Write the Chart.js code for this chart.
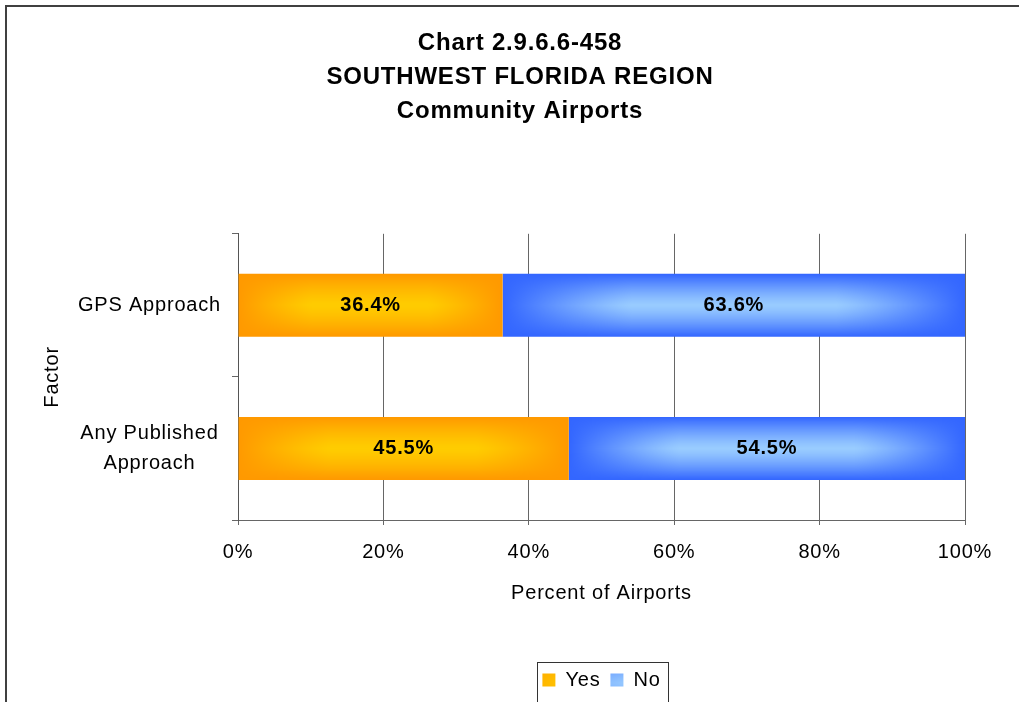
<!DOCTYPE html>
<html><head><meta charset="utf-8">
<script src="https://cdn.jsdelivr.net/npm/chart.js@4.4.1/dist/chart.umd.min.js"></script>
<style>html,body{margin:0;padding:0;background:#fff}canvas{display:block}</style>
</head><body>
<canvas id="c" width="1019" height="702"></canvas>
<script>
const titleLines = ['Chart 2.9.6.6-458', 'SOUTHWEST FLORIDA REGION', 'Community Airports'];
const categories = ['GPS Approach', ['Any Published', 'Approach']];
const seriesNames = ['Yes', 'No'];
const yesValues = [36.4, 45.5];
const noValues = [63.6, 54.5];
const xAxisTitle = 'Percent of Airports';
const yAxisTitle = 'Factor';
const xMin = 0, xMax = 100, xStep = 20;

const FONT = "'Liberation Sans', Arial, sans-serif";
const BAR_PCT = 0.44;
const palettes = [
  {edge: [255, 153, 0], center: [255, 204, 0], solid: '#FFAA00'},
  {edge: [51, 102, 255], center: [153, 204, 255], solid: '#4A7BFF'}
];

const gradCache = {};
function gradientCanvas(w, h, pal, key) {
  w = Math.max(2, Math.round(w)); h = Math.max(2, Math.round(h));
  const k = key + ':' + w + 'x' + h;
  if (gradCache[k]) return gradCache[k];
  const cv = document.createElement('canvas');
  cv.width = w; cv.height = h;
  const g = cv.getContext('2d');
  const img = g.createImageData(w, h);
  const fx = Math.max(1, 0.28 * w);
  for (let y = 0; y < h; y++) {
    const dy = Math.pow(Math.abs(y + 0.5 - h / 2) / (h / 2), 1.3);
    for (let x = 0; x < w; x++) {
      const de = Math.min(x + 0.5, w - x - 0.5);
      const tx = Math.pow(Math.max(0, 1 - de / fx), 1.2);
      const t = Math.min(1, 1 - (1 - dy) * (1 - tx));
      const i = (y * w + x) * 4;
      for (let c = 0; c < 3; c++) img.data[i + c] = Math.round(pal.center[c] + (pal.edge[c] - pal.center[c]) * t);
      img.data[i + 3] = 255;
    }
  }
  g.putImageData(img, 0, 0);
  gradCache[k] = cv;
  return cv;
}

function barFill(dsIndex) {
  return function (context) {
    const pal = palettes[dsIndex];
    if (context.type !== 'data') return pal.solid;
    const chart = context.chart;
    const xs = chart.scales.x, ys = chart.scales.y;
    if (!xs || !ys || !chart.chartArea) return pal.solid;
    const i = context.dataIndex;
    let start = 0;
    for (let d = 0; d < dsIndex; d++) start += chart.data.datasets[d].data[i];
    const end = start + chart.data.datasets[dsIndex].data[i];
    const p0 = xs.getPixelForValue(start), p1 = xs.getPixelForValue(end);
    const yc = ys.getPixelForValue(i);
    const th = (ys.height / categories.length) * BAR_PCT;
    const x0 = Math.min(p0, p1), w = Math.abs(p1 - p0);
    const y0 = yc - th / 2;
    if (!isFinite(x0) || !isFinite(y0) || w < 1) return pal.solid;
    const cv = gradientCanvas(w, th, pal, dsIndex);
    const pat = chart.ctx.createPattern(cv, 'repeat');
    if (pat.setTransform) pat.setTransform(new DOMMatrix().translate(x0, y0).scale(w / cv.width, th / cv.height));
    return pat;
  };
}

const decorPlugin = {
  id: 'decor',
  beforeLayout(chart) { chart.ctx.letterSpacing = '0.8px'; },
  afterLayout(chart) {
    if (chart.titleBlock) { chart.titleBlock.left = 21; chart.titleBlock.right = 1019; }
  },
  beforeDraw(chart) {
    const ctx = chart.ctx;
    ctx.letterSpacing = '0.8px';
    ctx.save();
    ctx.fillStyle = '#404040';
    ctx.fillRect(5, 5, chart.width - 5, 2);
    ctx.fillRect(5, 5, 2, chart.height - 5);
    ctx.restore();
  },
  afterDatasetsDraw(chart) {
    const ctx = chart.ctx;
    ctx.save();
    ctx.font = 'bold 20px ' + FONT;
    ctx.fillStyle = '#000';
    ctx.textAlign = 'center';
    ctx.textBaseline = 'middle';
    chart.data.datasets.forEach((ds, di) => {
      const meta = chart.getDatasetMeta(di);
      meta.data.forEach((el, i) => {
        const v = ds.data[i];
        ctx.fillText(v.toFixed(1) + '%', (el.x + el.base) / 2, el.y);
      });
    });
    ctx.restore();
  },
  afterDraw(chart) {
    const lg = chart.legend;
    if (!lg || !lg.legendHitBoxes || !lg.legendHitBoxes.length) return;
    const hb = lg.legendHitBoxes;
    const last = hb[hb.length - 1];
    const left = hb[0].left - 5;
    const right = last.left + last.width + 8;
    const top = lg.top + 2;
    const ctx = chart.ctx;
    ctx.save();
    ctx.strokeStyle = '#333';
    ctx.lineWidth = 1;
    ctx.strokeRect(Math.round(left) + 0.5, Math.round(top) + 0.5, Math.round(right - left), 80);
    ctx.restore();
  }
};

Chart.defaults.font.family = FONT;
Chart.defaults.color = '#000';

new Chart(document.getElementById('c'), {
  type: 'bar',
  data: {
    labels: categories,
    datasets: [
      {label: seriesNames[0], data: yesValues, backgroundColor: barFill(0), borderWidth: 0,
       barPercentage: BAR_PCT, categoryPercentage: 1},
      {label: seriesNames[1], data: noValues, backgroundColor: barFill(1), borderWidth: 0,
       barPercentage: BAR_PCT, categoryPercentage: 1}
    ]
  },
  options: {
    indexAxis: 'y',
    responsive: false,
    animation: false,
    devicePixelRatio: 1,
    layout: {padding: {left: 30, right: 54, top: 0, bottom: 2}},
    scales: {
      x: {
        stacked: true, min: xMin, max: xMax,
        ticks: {stepSize: xStep, padding: 15, font: {size: 20}, color: '#000',
                callback: v => v + '%'},
        grid: {color: '#666', lineWidth: 1, tickLength: 5, drawOnChartArea: true},
        border: {display: true, color: '#666'},
        title: {display: true, text: xAxisTitle, font: {size: 20}, color: '#000', padding: {top: 4, bottom: 55}},
        afterFit(s) { s.height = 140; s.paddingLeft = 0; s.paddingRight = 0; }
      },
      y: {
        stacked: true,
        ticks: {padding: 11, font: {size: 20, lineHeight: 1.5}, color: '#000', crossAlign: 'center'},
        grid: {color: '#666', drawOnChartArea: false, tickLength: 6, offset: true},
        border: {display: true, color: '#555'},
        title: {display: true, text: yAxisTitle, font: {size: 20}, color: '#000', padding: {top: 10, bottom: 0}},
        afterFit(s) { s.width = 208; s.paddingTop = 0; s.paddingBottom = 0; }
      }
    },
    plugins: {
      title: {display: true, text: titleLines, color: '#000',
              font: {size: 24, weight: 'bold', lineHeight: 1.4},
              padding: {top: 27, bottom: 106}},
      legend: {position: 'bottom', fullSize: false,
               labels: {boxWidth: 13, boxHeight: 13, padding: 10, font: {size: 20}, color: '#000'}},
      tooltip: {enabled: false}
    }
  },
  plugins: [decorPlugin]
});
</script>
</body></html>
